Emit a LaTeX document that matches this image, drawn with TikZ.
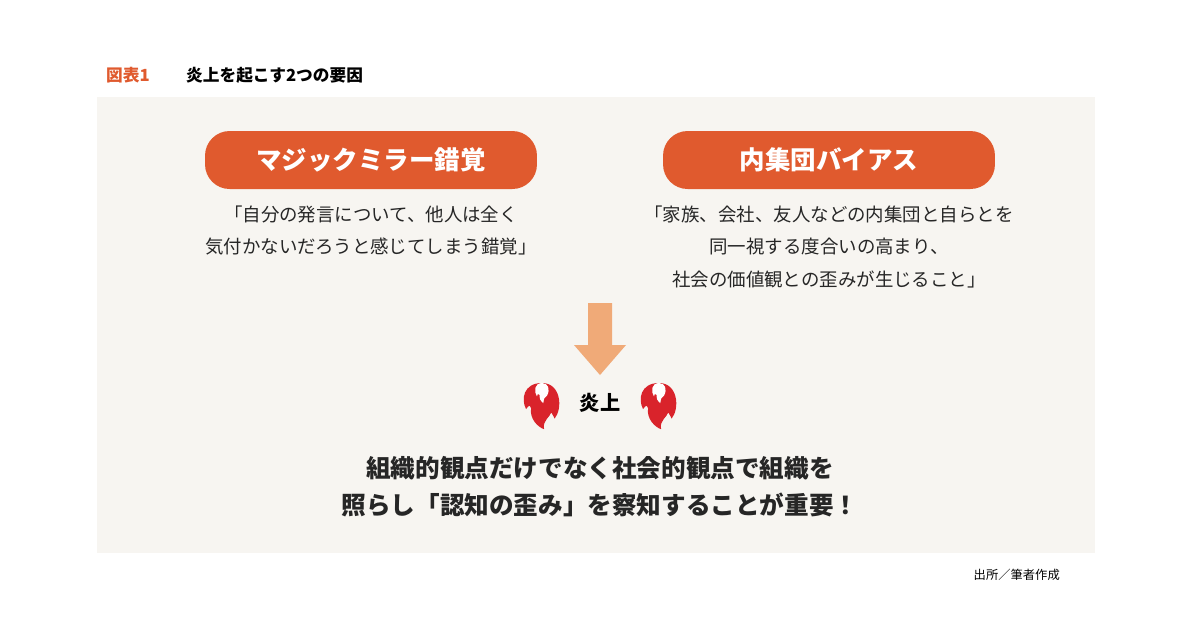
\documentclass[tikz,border=0pt]{standalone}
\usepackage{fontspec}
\setmainfont{Noto Sans CJK JP}
\newfontfamily\cjk{Noto Sans CJK JP}
\usetikzlibrary{positioning}
\definecolor{panelbg}{HTML}{F7F5F1}
\definecolor{pillred}{HTML}{E05A2E}
\definecolor{arroworange}{HTML}{F0AA78}
\definecolor{flamered}{HTML}{D9232B}
\tikzset{
  pill/.style={fill=pillred,rounded corners=14pt,minimum width=6.64cm,minimum height=1.16cm,
    text=white,font=\cjk\bfseries\fontsize{14.5}{16}\selectfont},
  quote/.style={align=center,font=\cjk\fontsize{10.5}{18.3}\selectfont,text=black!85},
  flame/.pic={
    \fill[flamered] (0,-0.5) .. controls (-0.45,-0.5) and (-0.5,-0.1) .. (-0.38,0.12)
      .. controls (-0.3,0.02) .. (-0.26,0.1) .. controls (-0.3,0.35) and (-0.1,0.55) .. (0.05,0.6)
      .. controls (0,0.4) and (0.2,0.3) .. (0.22,0.2) .. controls (0.28,0.3) .. (0.3,0.35)
      .. controls (0.5,0.1) and (0.45,-0.5) .. (0,-0.5) -- cycle;
    \fill[white] (0,-0.5) .. controls (-0.18,-0.5) and (-0.2,-0.3) .. (-0.12,-0.18)
      .. controls (-0.1,-0.25) .. (-0.06,-0.22) .. controls (-0.05,-0.1) .. (0.03,-0.02)
      .. controls (0.05,-0.15) .. (0.12,-0.2) .. controls (0.2,-0.35) and (0.15,-0.5) .. (0,-0.5) -- cycle;
  }
}
\begin{document}
\begin{tikzpicture}[x=0.02cm,y=-0.02cm]
\useasboundingbox (0,0) rectangle (1200,630);
\fill[white] (0,0) rectangle (1200,630);
\fill[panelbg] (97,97) rectangle (1095,553);
% title
\node[anchor=west,text=pillred,font=\cjk\bfseries\fontsize{9.5}{11}\selectfont] (fig) at (100,75) {図表1};
\node[anchor=west,font=\cjk\bfseries\fontsize{9.5}{11}\selectfont] (title) at (180,75) {炎上を起こす2つの要因};
% two factors
\node[pill] (mirror) at (371,160) {マジックミラー錯覚};
\node[pill] (ingroup) at (829,160) {内集団バイアス};
\node[quote,anchor=north] (mirrortxt) at (371,200) {「自分の発言について、他人は全く\\気付かないだろうと感じてしまう錯覚」};
\node[quote,anchor=north] (ingrouptxt) at (829,200) {「家族、会社、友人などの内集団と自らとを\\同一視する度合いの高まり、\\社会の価値観との歪みが生じること」};
% arrow
\fill[arroworange] (588,303) -- (612,303) -- (612,345) -- (626,345) -- (600,375) -- (574,345) -- (588,345) -- cycle;
% flaming
\node[font=\cjk\bfseries\fontsize{11.5}{13}\selectfont] (flaming) at (600,403) {炎上};
\pic[scale=42] at (542,404) {flame};
\pic[scale=42] at (659,404) {flame};
\node[align=center,font=\cjk\bfseries\fontsize{14}{21}\selectfont,text=black!85] (message) at (600,487)
  {組織的観点だけでなく社会的観点で組織を\\照らし「認知の歪み」を察知することが重要！};
\node[anchor=east,font=\cjk\fontsize{7}{8}\selectfont] (source) at (1066,575) {出所／筆者作成};
\end{tikzpicture}
\end{document}
